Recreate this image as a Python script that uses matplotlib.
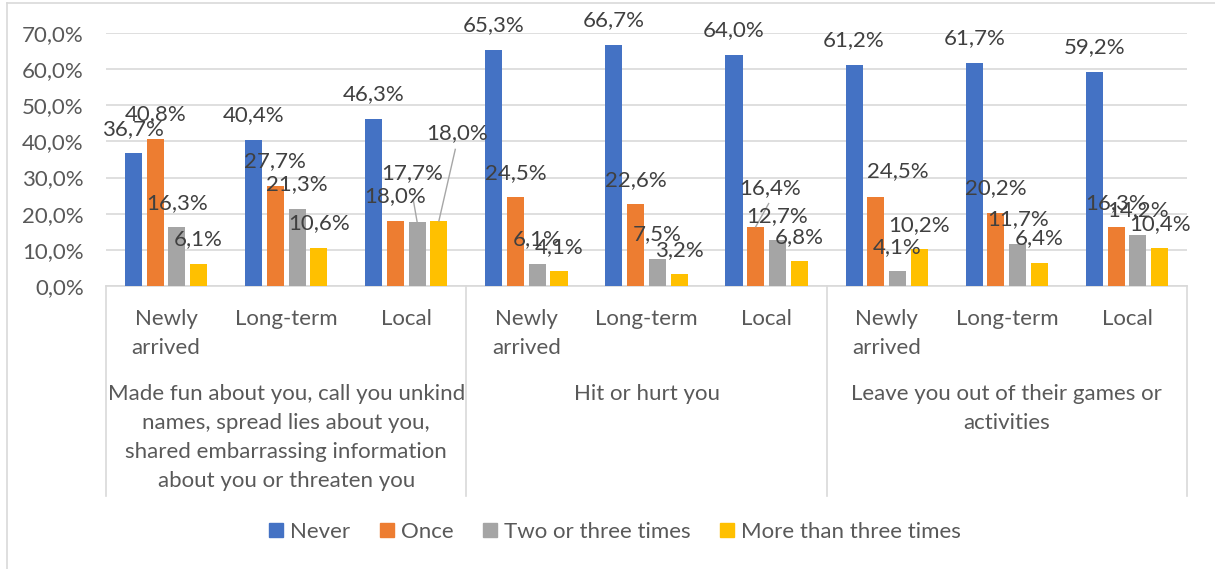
import matplotlib
matplotlib.use("Agg")
import matplotlib.pyplot as plt
from matplotlib.lines import Line2D
from matplotlib.patches import Patch
from matplotlib.ticker import FuncFormatter
import numpy as np

plt.rcParams['font.family'] = ['Lato', 'DejaVu Sans']

# survey answers, in percent, per question and pupil group
questions = ["Made fun about you, call you unkind\nnames, spread lies about you,\nshared embarrassing information\nabout you or threaten you",
             "Hit or hurt you",
             "Leave you out of their games or\nactivities"]
groups = ["Newly\narrived", "Long-term", "Local"] * 3
series_names = ["Never", "Once", "Two or three times", "More than three times"]
never = [36.7, 40.4, 46.3, 65.3, 66.7, 64.0, 61.2, 61.7, 59.2]
once = [40.8, 27.7, 18.0, 24.5, 22.6, 16.4, 24.5, 20.2, 16.3]
two_three = [16.3, 21.3, 17.7, 6.1, 7.5, 12.7, 4.1, 11.7, 14.2]
more_three = [6.1, 10.6, 18.0, 4.1, 3.2, 6.8, 10.2, 6.4, 10.4]
colors = ["#4472C4", "#ED7D31", "#A5A5A5", "#FFC000"]

# labels that were dragged away from their bar: (series, bar) -> label x, label y, leader start or None
moved_labels = {
    (2, 2): (2.05, 29.6, (2.058, 23.9)),
    (3, 2): (2.425, 40.7, (2.408, 37.8)),
    (1, 5): (5.025, 25.3, (5.017, 22.8)),
    (1, 6): (6.096, 30.1, None),
}

txt = "#595959"
lab = "#404040"
grid = "#D9D9D9"
fs = 16

fig = plt.figure(figsize=(12.15, 5.69), dpi=100)
ax = fig.add_axes([106 / 1215, 1 - 286 / 569, (1187 - 106) / 1215, (286 - 33) / 569])
ax_h = 253  # axes height in pixels

x = np.arange(len(groups))
slot = 0.181
width = 0.142
data = [never, once, two_three, more_three]
for k, vals in enumerate(data):
    xs = x + (k - 1.5) * slot
    ax.bar(xs, vals, width=width, color=colors[k], label=series_names[k], zorder=3)
    for i, v in enumerate(vals):
        s = f"{v:.1f}%".replace(".", ",")
        if (k, i) in moved_labels:
            lx, ly, start = moved_labels[(k, i)]
            ax.text(lx, ly, s, ha="center", va="baseline", fontsize=fs, color=lab, zorder=5)
            if start is not None:
                ax.plot([start[0], xs[i]], [start[1], v], color="#A6A6A6", lw=1, zorder=4)
        else:
            ax.annotate(s, (xs[i], v), xytext=(0, 13.3), textcoords="offset points",
                        ha="center", va="baseline", fontsize=fs, color=lab, zorder=5)

ax.set_xlim(-0.5, len(groups) - 0.5)
ax.set_ylim(0, 70)
ax.set_yticks(np.arange(0, 71, 10))
ax.yaxis.set_major_formatter(FuncFormatter(lambda v, p: f"{v:.1f}%".replace(".", ",")))
ax.tick_params(axis="y", length=0, pad=16, labelsize=fs, labelcolor=txt)
ax.grid(axis="y", color=grid, lw=1.2, zorder=0)
for side in ["top", "right", "left"]:
    ax.spines[side].set_visible(False)
ax.spines["bottom"].set_color(grid)
ax.spines["bottom"].set_linewidth(1.2)

# two-level category axis, one text per line so the baselines sit where wanted
ax.set_xticks([])
trans = ax.get_xaxis_transform()
step = 29


def multiline(xpos, first_base, label):
    for n, line in enumerate(label.split("\n")):
        ax.text(xpos, -(first_base + n * step) / ax_h, line, transform=trans,
                ha="center", va="baseline", fontsize=fs, color=txt)


for i, g in enumerate(groups):
    multiline(i, 39, g)
for j, q in enumerate(questions):
    multiline(3 * j + 1, 114, q)
for b in [-0.5, 2.5, 5.5, 8.5]:
    ax.plot([b, b], [0, -210 / ax_h], transform=trans, color=grid, lw=1.2, clip_on=False)

handles = [Patch(color=c) for c in colors]
fig.legend(handles, series_names, loc="center", bbox_to_anchor=(615 / 1215, 1 - 532 / 569),
           ncol=4, frameon=False, fontsize=fs, labelcolor=txt, handlelength=0.63,
           handleheight=0.63, handletextpad=0.3, columnspacing=1.35)

# chart area frame
fig.add_artist(Line2D([6.5 / 1215, 6.5 / 1215], [0, 1 - 3 / 569], color=grid, lw=1.2))
fig.add_artist(Line2D([6.5 / 1215, 1], [1 - 3 / 569, 1 - 3 / 569], color=grid, lw=1.2))

fig.savefig("out.png", dpi=100)
